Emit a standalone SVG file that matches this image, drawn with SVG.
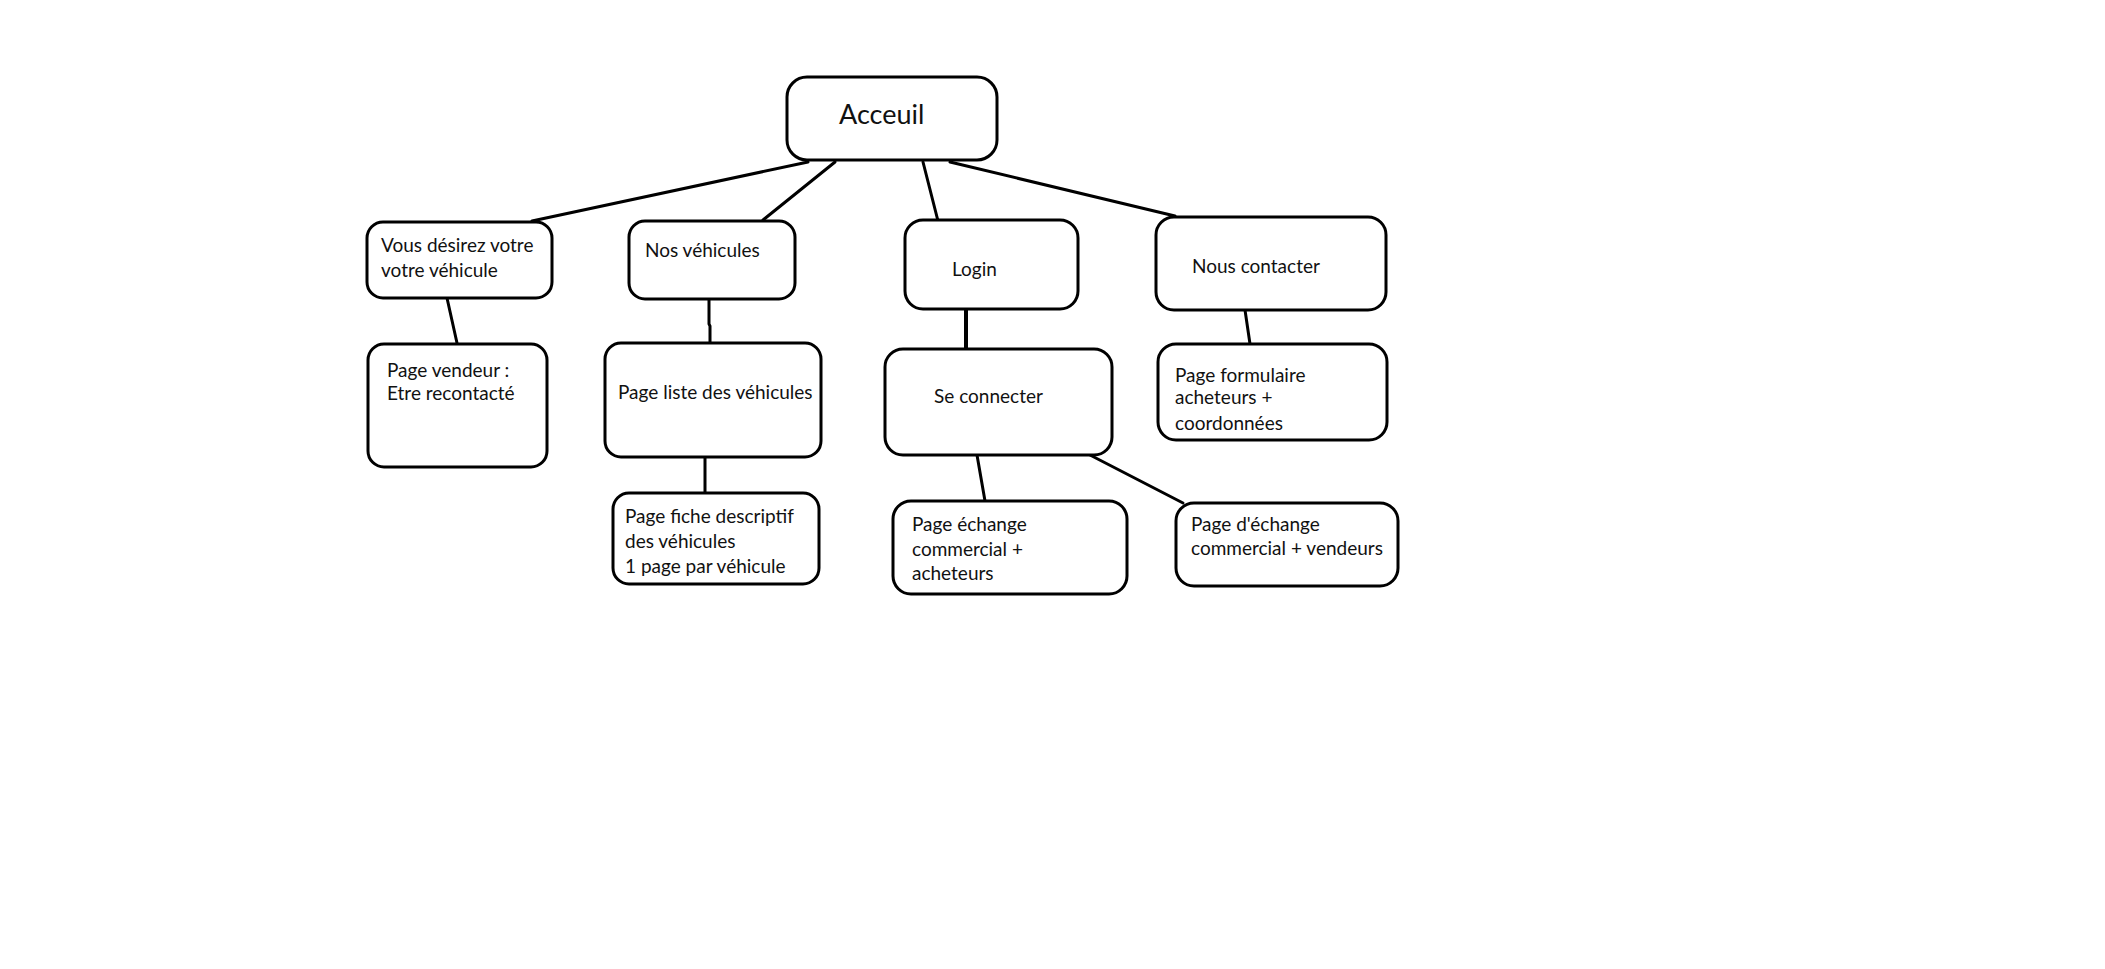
<svg xmlns="http://www.w3.org/2000/svg" width="2105" height="969" viewBox="0 0 2105 969">
<style>
.box{fill:#ffffff;stroke:#000000;stroke-width:3}
.t{font-family:Lato,"Open Sans",sans-serif;font-size:19px;fill:#111111}
.big{font-size:27px}
.c{stroke:#000000;stroke-width:3;fill:none;stroke-linecap:round}
</style>
<rect width="2105" height="969" fill="#ffffff"/>
<g id="connectors">
<line class="c" x1="808" y1="162" x2="532" y2="221"/>
<line class="c" x1="835" y1="162" x2="763" y2="220"/>
<line class="c" x1="923" y1="162" x2="938" y2="221"/>
<line class="c" x1="950" y1="162" x2="1175" y2="216"/>
<line class="c" x1="447" y1="298" x2="457" y2="343"/>
<polyline class="c" points="709,299 709,324 710,326 710,344"/>
<line class="c" x1="705" y1="457" x2="705" y2="493"/>
<line class="c" x1="966" y1="309" x2="966" y2="351" style="stroke-width:4"/>
<line class="c" x1="1245" y1="310" x2="1250" y2="344"/>
<line class="c" x1="977" y1="455" x2="985" y2="501"/>
<line class="c" x1="1090" y1="455" x2="1183" y2="503"/>
</g>
<g id="n-acceuil">
<rect class="box" x="787" y="77" width="210" height="83" rx="20"/>
<text class="t big" x="839" y="124">Acceuil</text>
</g>
<g id="n-vous">
<rect class="box" x="367" y="222" width="185" height="76" rx="16"/>
<text class="t" x="381" y="252">Vous désirez votre</text>
<text class="t" x="381" y="277">votre véhicule</text>
</g>
<g id="n-vendeur">
<rect class="box" x="368" y="344" width="179" height="123" rx="16"/>
<text class="t" x="387" y="377">Page vendeur :</text>
<text class="t" x="387" y="400">Etre recontacté</text>
</g>
<g id="n-nos">
<rect class="box" x="629" y="221" width="166" height="78" rx="16"/>
<text class="t" x="645" y="257">Nos véhicules</text>
</g>
<g id="n-liste">
<rect class="box" x="605" y="343" width="216" height="114" rx="16"/>
<text class="t" x="618" y="399">Page liste des véhicules</text>
</g>
<g id="n-fiche">
<rect class="box" x="613" y="493" width="206" height="91" rx="16"/>
<text class="t" x="625" y="523">Page fiche descriptif</text>
<text class="t" x="625" y="548">des véhicules</text>
<text class="t" x="625" y="573">1 page par véhicule</text>
</g>
<g id="n-login">
<rect class="box" x="905" y="220" width="173" height="89" rx="18"/>
<text class="t" x="952" y="276">Login</text>
</g>
<g id="n-connecter">
<rect class="box" x="885" y="349" width="227" height="106" rx="18"/>
<text class="t" x="934" y="403">Se connecter</text>
</g>
<g id="n-contact">
<rect class="box" x="1156" y="217" width="230" height="93" rx="18"/>
<text class="t" x="1192" y="273">Nous contacter</text>
</g>
<g id="n-formulaire">
<rect class="box" x="1158" y="344" width="229" height="96" rx="18"/>
<text class="t" x="1175" y="382">Page formulaire</text>
<text class="t" x="1175" y="404">acheteurs +</text>
<text class="t" x="1175" y="430">coordonnées</text>
</g>
<g id="n-echange-acheteurs">
<rect class="box" x="893" y="501" width="234" height="93" rx="18"/>
<text class="t" x="912" y="531">Page échange</text>
<text class="t" x="912" y="556">commercial +</text>
<text class="t" x="912" y="580">acheteurs</text>
</g>
<g id="n-echange-vendeurs">
<rect class="box" x="1176" y="503" width="222" height="83" rx="18"/>
<text class="t" x="1191" y="531">Page d'échange</text>
<text class="t" x="1191" y="555">commercial + vendeurs</text>
</g>
</svg>
